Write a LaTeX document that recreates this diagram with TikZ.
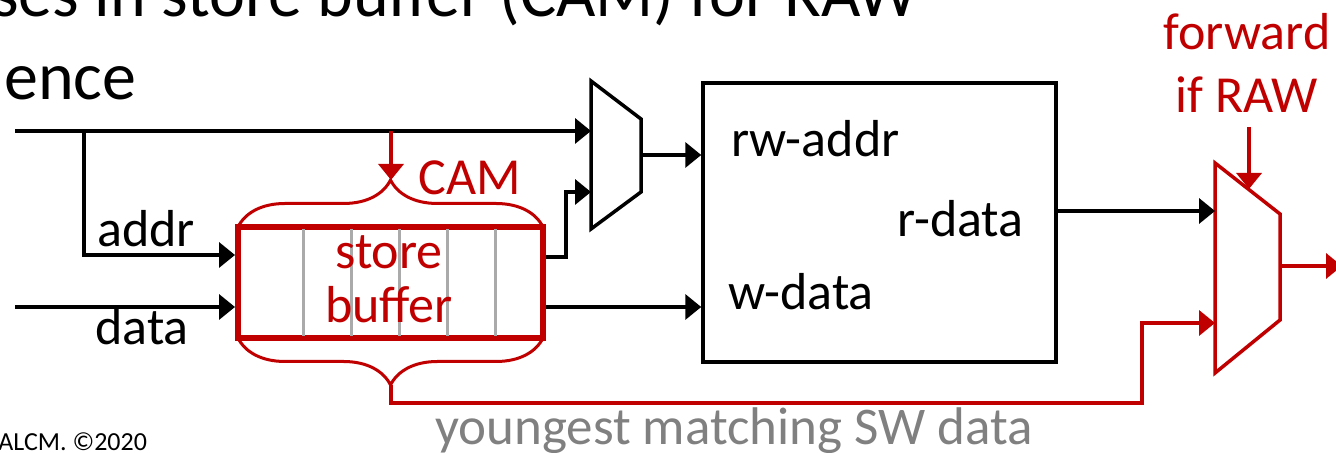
\documentclass[tikz,border=0pt]{standalone}
\usepackage{fontspec}
\setmainfont{Carlito}
\usetikzlibrary{arrows.meta,decorations.pathreplacing}
\definecolor{camred}{RGB}{192,0,0}
\definecolor{cellgray}{RGB}{170,170,170}
\definecolor{notegray}{RGB}{128,128,128}
\begin{document}
\begin{tikzpicture}[x=0.5pt,y=0.5pt,
  wire/.style={line width=1.75pt,-{Triangle[length=8pt,width=12.5pt]}},
  lbl/.style={inner sep=0pt,font=\fontsize{26}{27}\selectfont},
  ttl/.style={inner sep=0pt,font=\fontsize{34}{40}\selectfont},
  brc/.style={camred,line width=1.5pt,decorate,decoration={brace,amplitude=23.5pt}}]
\useasboundingbox (0,0) rectangle (1336,453);

\coordinate (in1) at (15,322);
\coordinate (in2) at (15,146);
\coordinate (br) at (84,322);
\coordinate (addrc) at (84,198);
\coordinate (jog) at (566,196);
\coordinate (camtap) at (391,322);
\coordinate (camtip) at (391,273);
\coordinate (ytip) at (391,68);

\coordinate (m1a) at (591,372);
\coordinate (m1b) at (641,334);
\coordinate (m1c) at (641,261);
\coordinate (m1d) at (591,224);
\coordinate (m1i1) at (591,322);
\coordinate (m1i2) at (591,261);
\coordinate (m1o) at (641,298);

\coordinate (m2a) at (1215,290);
\coordinate (m2b) at (1280,239);
\coordinate (m2c) at (1280,133);
\coordinate (m2d) at (1215,80);
\coordinate (m2i1) at (1215,242);
\coordinate (m2i2) at (1215,130);
\coordinate (m2o) at (1280,187);
\coordinate (m2s) at (1249,264);
\coordinate (ctl) at (1249,326);
\coordinate (out) at (1342,187);

\node[ttl,anchor=base west] (t1) at (-8,436) {ses in store buffer (CAM) for RAW};
\node[ttl,anchor=base west] (t2) at (4,353) {ence};

\node[draw=camred,line width=3pt,minimum width=152.5pt,minimum height=55.5pt] (sb) at (390.5,170.5) {};
\foreach \x in {303,351,399,447,495}
  \draw[cellgray,line width=1.5pt] (\x,117) -- (\x,224);
\node[lbl,text=camred,align=center] (sbtxt) at (389,173.5) {store\\buffer};

\draw[brc] (238,226) -- (543,226);
\draw[brc] (543,115) -- (238,115);

\node[draw,line width=1.75pt,minimum width=176.5pt,minimum height=139.5pt] (mem) at (879.5,230.5) {};
\node[lbl,anchor=base west] (rw) at (731,296) {rw-addr};
\node[lbl,anchor=base east] (rd) at (1024,216) {r-data};
\node[lbl,anchor=base west] (wd) at (728,143) {w-data};

\draw[line width=1.75pt] (m1a) -- (m1b) -- (m1c) -- (m1d) -- cycle;
\draw[camred,line width=1.75pt] (m2a) -- (m2b) -- (m2c) -- (m2d) -- cycle;

\draw[wire] (in1) -- (m1i1);
\draw[wire] (br) -- (addrc) -- (sb.west |- addrc);
\draw[wire] (in2) -- (sb.west |- in2);
\draw[wire] (sb.east |- jog) -- (jog) -- (jog |- m1i2) -- (m1i2);
\draw[wire] (sb.east |- in2) -- (mem.west |- in2);
\draw[wire] (m1o) -- (mem.west |- m1o);
\draw[wire] (mem.east |- m2i1) -- (m2i1);

\draw[wire,camred] (camtap) -- (camtip);
\draw[wire,camred] (ytip) -- (391,50) -- (1142,50) -- (1142,130) -- (m2i2);
\draw[wire,camred] (ctl) -- (m2s);
\draw[wire,camred] (m2o) -- (out);

\node[lbl,anchor=base west] (addr) at (97,206) {addr};
\node[lbl,anchor=base west] (data) at (95,108) {data};
\node[lbl,anchor=base west,text=camred] (cam) at (418,258) {CAM};
\node[lbl,anchor=base,text=camred] (fwd1) at (1247,403) {forward};
\node[lbl,anchor=base,text=camred] (fwd2) at (1247,340) {if RAW};
\node[lbl,anchor=base,text=notegray,font=\fontsize{26.5}{27}\selectfont] (yng) at (734,8) {youngest matching SW data};
\node[inner sep=0pt,anchor=base west,font=\fontsize{13}{15}\selectfont] (cpy) at (-2,2) {ALCM. ©2020};
\end{tikzpicture}
\end{document}
